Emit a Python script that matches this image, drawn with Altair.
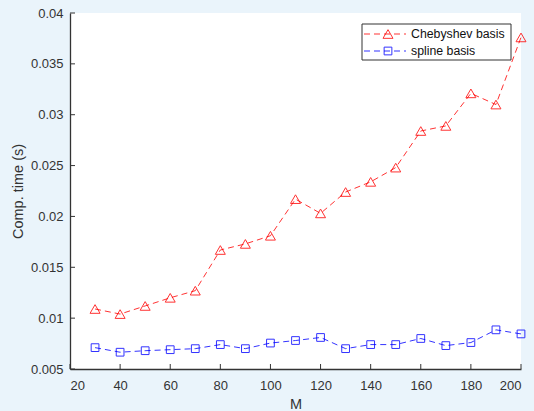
import altair as alt
import pandas as pd

# Problem size and measured computation times (seconds)
M = [30, 40, 50, 60, 70, 80, 90, 100, 110, 120, 130, 140, 150, 160, 170, 180, 190, 200]
cheb_time = [0.0109, 0.0104, 0.0112, 0.0120, 0.0127, 0.0167, 0.0173, 0.0181, 0.0217,
             0.0203, 0.0224, 0.0234, 0.0248, 0.0284, 0.0289, 0.0321, 0.0310, 0.0376]
spline_time = [0.0071, 0.00665, 0.0068, 0.0069, 0.0070, 0.0074, 0.0070, 0.00755, 0.0078,
               0.0081, 0.0070, 0.0074, 0.0074, 0.0080, 0.0073, 0.0076, 0.00885, 0.00845]

series_names = ["Chebyshev basis", "spline basis"]
series_colors = ["#ff0000", "#0000ff"]
series_shapes = ["triangle-up", "square"]
series_sizes = [100, 60]

x_ticks = [20, 40, 60, 80, 100, 120, 140, 160, 180, 200]
y_ticks = [0.005, 0.01, 0.015, 0.02, 0.025, 0.03, 0.035, 0.04]

W, H = 451, 356
FONT = "Liberation Sans"
INK = "#333333"

x_scale = alt.Scale(domain=[20, 200], nice=False, zero=False)
y_scale = alt.Scale(domain=[0.005, 0.04], nice=False, zero=False)

x_enc = alt.X("M:Q", scale=x_scale,
              axis=alt.Axis(title="M", values=x_ticks, format="d"))
y_enc = alt.Y("t:Q", scale=y_scale,
              axis=alt.Axis(title="Comp. time (s)", values=y_ticks, format="~g"))

layers = []
for name, vals, col, shp, sz in zip(series_names, [cheb_time, spline_time],
                                    series_colors, series_shapes, series_sizes):
    df = pd.DataFrame({"M": M, "t": vals})
    base = alt.Chart(df).encode(x=x_enc, y=y_enc)
    layers.append(base.mark_line(color=col, strokeWidth=1, strokeDash=[6, 4], opacity=0.8))
    layers.append(base.mark_point(shape=shp, size=sz, color=col, filled=False,
                                  strokeWidth=1, opacity=0.8))

# inward-pointing tick marks on both axes
xt = pd.DataFrame({"M": x_ticks})
layers.append(alt.Chart(xt).mark_rule(color=INK, strokeWidth=1).encode(
    x=alt.X("M:Q", scale=x_scale), y=alt.value(H), y2=alt.value(H - 5)))
yt = pd.DataFrame({"t": y_ticks})
layers.append(alt.Chart(yt).mark_rule(color=INK, strokeWidth=1).encode(
    y=alt.Y("t:Q", scale=y_scale), x=alt.value(0), x2=alt.value(5)))

# legend box in the upper-right corner
box_x0, box_x1, box_y0, box_y1 = 292, 441, 11, 47
legend_frame = alt.Chart(pd.DataFrame({"k": [0]})).mark_rect(
    fill="white", stroke="#333333", strokeWidth=1).encode(
    x=alt.value(box_x0), x2=alt.value(box_x1), y=alt.value(box_y0), y2=alt.value(box_y1))
layers.append(legend_frame)

row_y = [21, 38]
for name, col, shp, sz, ry in zip(series_names, series_colors, series_shapes,
                                  series_sizes, row_y):
    one = alt.Chart(pd.DataFrame({"label": [name]}))
    layers.append(one.mark_rule(color=col, strokeWidth=1, strokeDash=[6, 4], opacity=0.8).encode(
        x=alt.value(294), x2=alt.value(336), y=alt.value(ry)))
    layers.append(one.mark_point(shape=shp, size=sz, color=col, filled=False,
                                 strokeWidth=1, opacity=0.8).encode(
        x=alt.value(318), y=alt.value(ry)))
    layers.append(one.mark_text(align="left", baseline="middle", font=FONT, fontSize=12.3,
                                color="#111111").encode(
        x=alt.value(341), y=alt.value(ry), text="label:N"))

chart = alt.layer(*layers).properties(
    width=W, height=H,
    background="#eaf4fb",
    padding={"left": 70, "top": 13, "right": 13, "bottom": 42},
    autosize=alt.AutoSizeParams(type="none"),
).configure_view(
    fill="white", stroke=None
).configure_axis(
    grid=False, ticks=False,
    domainColor=INK, domainWidth=1.3,
    labelFont=FONT, labelFontSize=13, labelColor=INK,
    titleFont=FONT, titleFontSize=14.5, titleFontWeight="normal", titleColor=INK,
).configure_axisX(
    labelPadding=10, titlePadding=5
).configure_axisY(
    labelPadding=7, titlePadding=5
)

chart.save("out.html", embed_options={"renderer": "svg", "actions": False})
